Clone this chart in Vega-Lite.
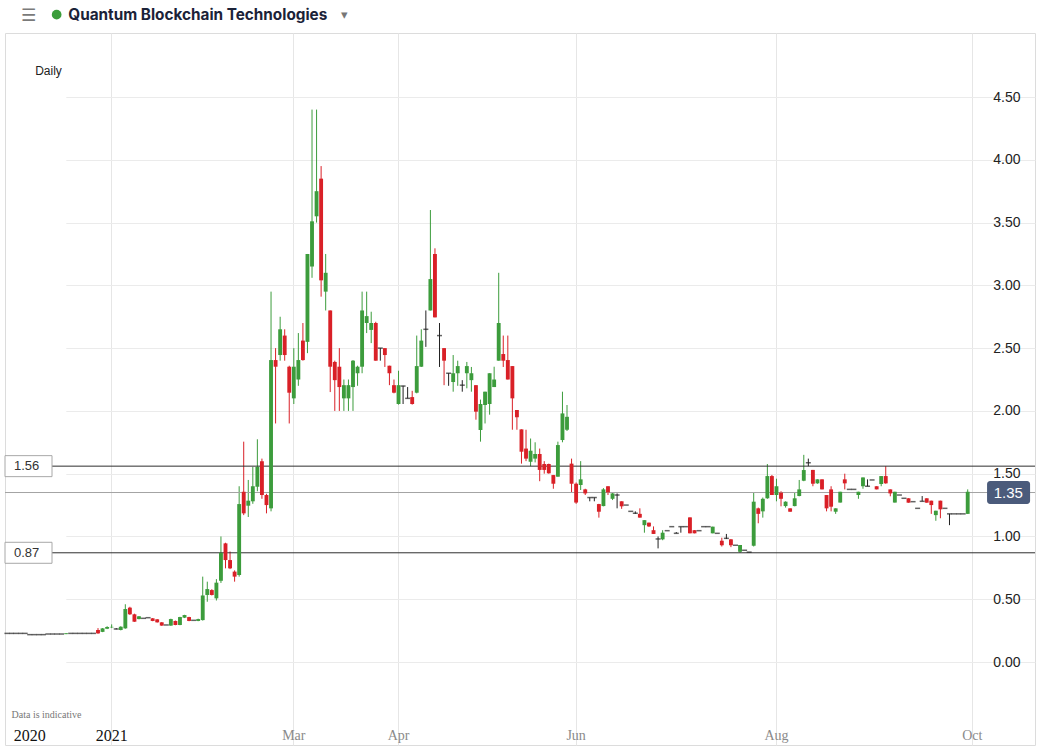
{
  "$schema": "https://vega.github.io/schema/vega-lite/v6.json",
  "autosize": {"type": "none"},
  "padding": {"left": 5, "top": 33, "right": 3, "bottom": 7},
  "width": 1030,
  "height": 712,
  "background": "#ffffff",
  "title": {"text": "☰", "anchor": "start", "frame": "group", "dx": 16, "offset": -26, "baseline": "middle", "fontSize": 17, "color": "#7a7a7a", "fontWeight": "normal", "font": "DejaVu Sans"},
  "config": {"view": {"stroke": "#dcdcdc"}, "font": "Liberation Sans"},
  "datasets": {
    "levels": [{"level": 1.56}, {"level": 0.87}],
    "last": [{"d": "2021-10-01", "p": 1.35, "name": "Quantum Blockchain Technologies"}],
    "candles": [
      {"d":"2020-11-27","o":0.228,"h":0.228,"l":0.228,"c":0.228},
      {"d":"2020-11-30","o":0.228,"h":0.228,"l":0.228,"c":0.228},
      {"d":"2020-12-01","o":0.228,"h":0.228,"l":0.228,"c":0.228},
      {"d":"2020-12-02","o":0.228,"h":0.228,"l":0.228,"c":0.228},
      {"d":"2020-12-03","o":0.228,"h":0.228,"l":0.228,"c":0.228},
      {"d":"2020-12-04","o":0.218,"h":0.218,"l":0.218,"c":0.218},
      {"d":"2020-12-07","o":0.218,"h":0.218,"l":0.218,"c":0.218},
      {"d":"2020-12-08","o":0.218,"h":0.218,"l":0.218,"c":0.218},
      {"d":"2020-12-09","o":0.218,"h":0.218,"l":0.218,"c":0.218},
      {"d":"2020-12-10","o":0.223,"h":0.223,"l":0.223,"c":0.223},
      {"d":"2020-12-11","o":0.223,"h":0.223,"l":0.223,"c":0.223},
      {"d":"2020-12-14","o":0.223,"h":0.223,"l":0.223,"c":0.223},
      {"d":"2020-12-15","o":0.223,"h":0.223,"l":0.223,"c":0.223},
      {"d":"2020-12-16","o":0.222,"h":0.230,"l":0.222,"c":0.229},
      {"d":"2020-12-17","o":0.228,"h":0.228,"l":0.228,"c":0.228},
      {"d":"2020-12-18","o":0.228,"h":0.228,"l":0.228,"c":0.228},
      {"d":"2020-12-21","o":0.228,"h":0.228,"l":0.228,"c":0.228},
      {"d":"2020-12-22","o":0.228,"h":0.228,"l":0.228,"c":0.228},
      {"d":"2020-12-23","o":0.228,"h":0.228,"l":0.228,"c":0.228},
      {"d":"2020-12-24","o":0.228,"h":0.228,"l":0.228,"c":0.228},
      {"d":"2020-12-29","o":0.255,"h":0.270,"l":0.225,"c":0.228},
      {"d":"2020-12-30","o":0.240,"h":0.270,"l":0.238,"c":0.268},
      {"d":"2020-12-31","o":0.265,"h":0.285,"l":0.262,"c":0.279},
      {"d":"2021-01-04","o":0.276,"h":0.300,"l":0.270,"c":0.280},
      {"d":"2021-01-05","o":0.263,"h":0.270,"l":0.260,"c":0.263},
      {"d":"2021-01-06","o":0.255,"h":0.285,"l":0.252,"c":0.281},
      {"d":"2021-01-07","o":0.268,"h":0.460,"l":0.265,"c":0.422},
      {"d":"2021-01-08","o":0.433,"h":0.440,"l":0.375,"c":0.380},
      {"d":"2021-01-11","o":0.380,"h":0.385,"l":0.320,"c":0.321},
      {"d":"2021-01-12","o":0.342,"h":0.366,"l":0.340,"c":0.364},
      {"d":"2021-01-13","o":0.348,"h":0.348,"l":0.348,"c":0.348},
      {"d":"2021-01-14","o":0.353,"h":0.353,"l":0.353,"c":0.353},
      {"d":"2021-01-15","o":0.348,"h":0.350,"l":0.325,"c":0.327},
      {"d":"2021-01-18","o":0.340,"h":0.342,"l":0.314,"c":0.316},
      {"d":"2021-01-19","o":0.316,"h":0.318,"l":0.288,"c":0.290},
      {"d":"2021-01-20","o":0.295,"h":0.295,"l":0.295,"c":0.295},
      {"d":"2021-01-21","o":0.290,"h":0.345,"l":0.288,"c":0.342},
      {"d":"2021-01-22","o":0.327,"h":0.330,"l":0.293,"c":0.295},
      {"d":"2021-01-25","o":0.295,"h":0.360,"l":0.293,"c":0.358},
      {"d":"2021-01-26","o":0.353,"h":0.376,"l":0.350,"c":0.374},
      {"d":"2021-01-27","o":0.358,"h":0.360,"l":0.325,"c":0.327},
      {"d":"2021-01-28","o":0.332,"h":0.332,"l":0.332,"c":0.332},
      {"d":"2021-01-29","o":0.327,"h":0.345,"l":0.325,"c":0.342},
      {"d":"2021-02-01","o":0.334,"h":0.680,"l":0.330,"c":0.530},
      {"d":"2021-02-02","o":0.534,"h":0.640,"l":0.480,"c":0.581},
      {"d":"2021-02-03","o":0.573,"h":0.580,"l":0.530,"c":0.534},
      {"d":"2021-02-04","o":0.507,"h":0.660,"l":0.490,"c":0.632},
      {"d":"2021-02-05","o":0.647,"h":1.000,"l":0.630,"c":0.870},
      {"d":"2021-02-08","o":0.945,"h":0.950,"l":0.746,"c":0.812},
      {"d":"2021-02-09","o":0.812,"h":0.880,"l":0.740,"c":0.746},
      {"d":"2021-02-10","o":0.720,"h":0.730,"l":0.640,"c":0.680},
      {"d":"2021-02-11","o":0.693,"h":1.400,"l":0.680,"c":1.258},
      {"d":"2021-02-12","o":1.356,"h":1.755,"l":1.170,"c":1.184},
      {"d":"2021-02-15","o":1.245,"h":1.450,"l":1.155,"c":1.285},
      {"d":"2021-02-16","o":1.280,"h":1.555,"l":1.260,"c":1.400},
      {"d":"2021-02-17","o":1.396,"h":1.774,"l":1.360,"c":1.555},
      {"d":"2021-02-18","o":1.600,"h":1.620,"l":1.300,"c":1.330},
      {"d":"2021-02-19","o":1.330,"h":1.340,"l":1.184,"c":1.250},
      {"d":"2021-02-22","o":1.224,"h":2.950,"l":1.200,"c":2.405},
      {"d":"2021-02-23","o":2.405,"h":2.500,"l":1.900,"c":2.352},
      {"d":"2021-02-24","o":2.445,"h":2.750,"l":2.400,"c":2.650},
      {"d":"2021-02-25","o":2.600,"h":2.650,"l":2.400,"c":2.445},
      {"d":"2021-02-26","o":2.352,"h":2.360,"l":1.900,"c":2.145},
      {"d":"2021-03-01","o":2.100,"h":2.500,"l":2.055,"c":2.352},
      {"d":"2021-03-02","o":2.250,"h":2.620,"l":2.200,"c":2.405},
      {"d":"2021-03-03","o":2.560,"h":2.700,"l":2.400,"c":2.405},
      {"d":"2021-03-04","o":2.550,"h":3.250,"l":2.460,"c":3.250},
      {"d":"2021-03-05","o":3.150,"h":4.400,"l":3.060,"c":3.510},
      {"d":"2021-03-08","o":3.550,"h":4.400,"l":3.500,"c":3.750},
      {"d":"2021-03-09","o":3.850,"h":3.950,"l":2.910,"c":3.040},
      {"d":"2021-03-10","o":2.950,"h":3.250,"l":2.800,"c":3.100},
      {"d":"2021-03-11","o":2.800,"h":2.800,"l":2.150,"c":2.352},
      {"d":"2021-03-12","o":2.390,"h":2.400,"l":2.000,"c":2.245},
      {"d":"2021-03-15","o":2.352,"h":2.500,"l":2.000,"c":2.190},
      {"d":"2021-03-16","o":2.100,"h":2.250,"l":2.000,"c":2.205},
      {"d":"2021-03-17","o":2.100,"h":2.250,"l":2.000,"c":2.205},
      {"d":"2021-03-18","o":2.190,"h":2.405,"l":2.000,"c":2.400},
      {"d":"2021-03-19","o":2.300,"h":2.360,"l":2.200,"c":2.352},
      {"d":"2021-03-22","o":2.352,"h":2.950,"l":2.300,"c":2.800},
      {"d":"2021-03-23","o":2.700,"h":2.950,"l":2.620,"c":2.755},
      {"d":"2021-03-24","o":2.645,"h":2.790,"l":2.540,"c":2.700},
      {"d":"2021-03-25","o":2.700,"h":2.710,"l":2.400,"c":2.400},
      {"d":"2021-03-26","o":2.500,"h":2.500,"l":2.400,"c":2.500},
      {"d":"2021-03-29","o":2.500,"h":2.500,"l":2.350,"c":2.445},
      {"d":"2021-03-30","o":2.360,"h":2.360,"l":2.205,"c":2.300},
      {"d":"2021-03-31","o":2.205,"h":2.250,"l":2.140,"c":2.145},
      {"d":"2021-04-01","o":2.055,"h":2.320,"l":2.050,"c":2.205},
      {"d":"2021-04-06","o":2.198,"h":2.200,"l":2.055,"c":2.198},
      {"d":"2021-04-07","o":2.100,"h":2.190,"l":2.100,"c":2.100},
      {"d":"2021-04-08","o":2.110,"h":2.160,"l":2.050,"c":2.055},
      {"d":"2021-04-09","o":2.145,"h":2.600,"l":2.140,"c":2.357},
      {"d":"2021-04-12","o":2.352,"h":2.650,"l":2.350,"c":2.560},
      {"d":"2021-04-13","o":2.650,"h":2.800,"l":2.510,"c":2.650},
      {"d":"2021-04-14","o":2.800,"h":3.600,"l":2.800,"c":3.050},
      {"d":"2021-04-15","o":3.250,"h":3.295,"l":2.745,"c":2.745},
      {"d":"2021-04-16","o":2.600,"h":2.700,"l":2.350,"c":2.600},
      {"d":"2021-04-19","o":2.500,"h":2.500,"l":2.205,"c":2.400},
      {"d":"2021-04-20","o":2.300,"h":2.300,"l":2.200,"c":2.300},
      {"d":"2021-04-21","o":2.230,"h":2.445,"l":2.153,"c":2.300},
      {"d":"2021-04-22","o":2.300,"h":2.400,"l":2.200,"c":2.357},
      {"d":"2021-04-23","o":2.205,"h":2.245,"l":2.153,"c":2.205},
      {"d":"2021-04-26","o":2.300,"h":2.390,"l":2.180,"c":2.357},
      {"d":"2021-04-27","o":2.245,"h":2.350,"l":2.153,"c":2.300},
      {"d":"2021-04-28","o":2.205,"h":2.205,"l":1.930,"c":1.994},
      {"d":"2021-04-29","o":1.848,"h":2.090,"l":1.755,"c":2.055},
      {"d":"2021-04-30","o":2.047,"h":2.153,"l":1.900,"c":2.153},
      {"d":"2021-05-04","o":2.055,"h":2.300,"l":1.970,"c":2.300},
      {"d":"2021-05-05","o":2.190,"h":2.352,"l":2.190,"c":2.250},
      {"d":"2021-05-06","o":2.400,"h":3.100,"l":2.400,"c":2.700},
      {"d":"2021-05-07","o":2.453,"h":2.600,"l":2.350,"c":2.400},
      {"d":"2021-05-10","o":2.405,"h":2.600,"l":2.250,"c":2.250},
      {"d":"2021-05-11","o":2.357,"h":2.357,"l":1.850,"c":2.100},
      {"d":"2021-05-12","o":2.007,"h":2.007,"l":1.850,"c":1.950},
      {"d":"2021-05-13","o":1.853,"h":1.853,"l":1.580,"c":1.675},
      {"d":"2021-05-14","o":1.700,"h":1.850,"l":1.600,"c":1.620},
      {"d":"2021-05-17","o":1.595,"h":1.780,"l":1.560,"c":1.683},
      {"d":"2021-05-18","o":1.620,"h":1.750,"l":1.590,"c":1.657},
      {"d":"2021-05-19","o":1.657,"h":1.700,"l":1.440,"c":1.530},
      {"d":"2021-05-20","o":1.577,"h":1.600,"l":1.500,"c":1.530},
      {"d":"2021-05-21","o":1.577,"h":1.580,"l":1.500,"c":1.503},
      {"d":"2021-05-24","o":1.489,"h":1.490,"l":1.380,"c":1.420},
      {"d":"2021-05-25","o":1.476,"h":1.755,"l":1.476,"c":1.728},
      {"d":"2021-05-26","o":1.768,"h":2.153,"l":1.750,"c":1.980},
      {"d":"2021-05-27","o":1.850,"h":2.047,"l":1.840,"c":1.953},
      {"d":"2021-05-28","o":1.580,"h":1.620,"l":1.350,"c":1.420},
      {"d":"2021-06-01","o":1.420,"h":1.430,"l":1.260,"c":1.270},
      {"d":"2021-06-02","o":1.410,"h":1.600,"l":1.370,"c":1.455},
      {"d":"2021-06-03","o":1.375,"h":1.380,"l":1.330,"c":1.343},
      {"d":"2021-06-04","o":1.310,"h":1.310,"l":1.280,"c":1.310},
      {"d":"2021-06-07","o":1.310,"h":1.310,"l":1.280,"c":1.310},
      {"d":"2021-06-08","o":1.258,"h":1.260,"l":1.150,"c":1.197},
      {"d":"2021-06-09","o":1.242,"h":1.385,"l":1.240,"c":1.375},
      {"d":"2021-06-10","o":1.400,"h":1.400,"l":1.330,"c":1.350},
      {"d":"2021-06-11","o":1.300,"h":1.350,"l":1.290,"c":1.343},
      {"d":"2021-06-14","o":1.330,"h":1.343,"l":1.224,"c":1.330},
      {"d":"2021-06-15","o":1.280,"h":1.280,"l":1.220,"c":1.240},
      {"d":"2021-06-16","o":1.250,"h":1.250,"l":1.250,"c":1.250},
      {"d":"2021-06-17","o":1.200,"h":1.200,"l":1.200,"c":1.200},
      {"d":"2021-06-18","o":1.185,"h":1.200,"l":1.180,"c":1.185},
      {"d":"2021-06-21","o":1.180,"h":1.224,"l":1.150,"c":1.150},
      {"d":"2021-06-22","o":1.090,"h":1.130,"l":1.030,"c":1.130},
      {"d":"2021-06-23","o":1.110,"h":1.110,"l":1.075,"c":1.080},
      {"d":"2021-06-24","o":1.050,"h":1.080,"l":1.020,"c":1.020},
      {"d":"2021-06-25","o":0.980,"h":1.000,"l":0.905,"c":0.980},
      {"d":"2021-06-28","o":0.977,"h":1.050,"l":0.970,"c":1.030},
      {"d":"2021-06-29","o":1.046,"h":1.046,"l":1.046,"c":1.046},
      {"d":"2021-06-30","o":1.078,"h":1.078,"l":1.078,"c":1.078},
      {"d":"2021-07-01","o":1.025,"h":1.035,"l":1.025,"c":1.025},
      {"d":"2021-07-02","o":1.078,"h":1.078,"l":1.030,"c":1.078},
      {"d":"2021-07-05","o":1.078,"h":1.078,"l":1.078,"c":1.078},
      {"d":"2021-07-06","o":1.152,"h":1.152,"l":1.025,"c":1.025},
      {"d":"2021-07-07","o":1.050,"h":1.050,"l":1.025,"c":1.025},
      {"d":"2021-07-08","o":1.046,"h":1.046,"l":1.046,"c":1.046},
      {"d":"2021-07-09","o":1.078,"h":1.078,"l":1.078,"c":1.078},
      {"d":"2021-07-12","o":1.078,"h":1.078,"l":1.078,"c":1.078},
      {"d":"2021-07-13","o":1.025,"h":1.078,"l":1.025,"c":1.078},
      {"d":"2021-07-14","o":1.025,"h":1.025,"l":1.025,"c":1.025},
      {"d":"2021-07-15","o":0.966,"h":0.990,"l":0.920,"c":0.930},
      {"d":"2021-07-16","o":0.985,"h":1.020,"l":0.980,"c":0.985},
      {"d":"2021-07-19","o":0.977,"h":0.980,"l":0.915,"c":0.930},
      {"d":"2021-07-20","o":0.930,"h":0.930,"l":0.930,"c":0.930},
      {"d":"2021-07-21","o":0.878,"h":0.932,"l":0.870,"c":0.932},
      {"d":"2021-07-22","o":0.890,"h":0.890,"l":0.890,"c":0.890},
      {"d":"2021-07-23","o":0.875,"h":0.875,"l":0.875,"c":0.875},
      {"d":"2021-07-26","o":0.926,"h":1.350,"l":0.920,"c":1.277},
      {"d":"2021-07-27","o":1.224,"h":1.230,"l":1.105,"c":1.180},
      {"d":"2021-07-28","o":1.200,"h":1.310,"l":1.150,"c":1.300},
      {"d":"2021-07-29","o":1.304,"h":1.577,"l":1.300,"c":1.481},
      {"d":"2021-07-30","o":1.481,"h":1.490,"l":1.330,"c":1.330},
      {"d":"2021-08-02","o":1.330,"h":1.460,"l":1.280,"c":1.400},
      {"d":"2021-08-03","o":1.350,"h":1.360,"l":1.240,"c":1.300},
      {"d":"2021-08-04","o":1.242,"h":1.280,"l":1.230,"c":1.277},
      {"d":"2021-08-05","o":1.224,"h":1.224,"l":1.197,"c":1.197},
      {"d":"2021-08-06","o":1.242,"h":1.350,"l":1.240,"c":1.304},
      {"d":"2021-08-09","o":1.322,"h":1.450,"l":1.320,"c":1.375},
      {"d":"2021-08-10","o":1.444,"h":1.650,"l":1.440,"c":1.529},
      {"d":"2021-08-11","o":1.587,"h":1.620,"l":1.560,"c":1.587},
      {"d":"2021-08-12","o":1.530,"h":1.530,"l":1.400,"c":1.420},
      {"d":"2021-08-13","o":1.423,"h":1.455,"l":1.420,"c":1.455},
      {"d":"2021-08-16","o":1.455,"h":1.455,"l":1.375,"c":1.375},
      {"d":"2021-08-17","o":1.330,"h":1.330,"l":1.200,"c":1.224},
      {"d":"2021-08-18","o":1.375,"h":1.400,"l":1.200,"c":1.237},
      {"d":"2021-08-19","o":1.197,"h":1.224,"l":1.180,"c":1.224},
      {"d":"2021-08-20","o":1.270,"h":1.356,"l":1.270,"c":1.356},
      {"d":"2021-08-23","o":1.455,"h":1.500,"l":1.375,"c":1.423},
      {"d":"2021-08-24","o":1.375,"h":1.375,"l":1.375,"c":1.375},
      {"d":"2021-08-25","o":1.375,"h":1.375,"l":1.375,"c":1.375},
      {"d":"2021-08-26","o":1.330,"h":1.356,"l":1.300,"c":1.356},
      {"d":"2021-08-27","o":1.400,"h":1.470,"l":1.380,"c":1.470},
      {"d":"2021-08-31","o":1.400,"h":1.455,"l":1.400,"c":1.400},
      {"d":"2021-09-01","o":1.450,"h":1.450,"l":1.450,"c":1.450},
      {"d":"2021-09-02","o":1.400,"h":1.400,"l":1.375,"c":1.375},
      {"d":"2021-09-03","o":1.418,"h":1.481,"l":1.400,"c":1.481},
      {"d":"2021-09-06","o":1.481,"h":1.560,"l":1.420,"c":1.423},
      {"d":"2021-09-07","o":1.375,"h":1.375,"l":1.320,"c":1.343},
      {"d":"2021-09-08","o":1.270,"h":1.356,"l":1.270,"c":1.356},
      {"d":"2021-09-09","o":1.330,"h":1.330,"l":1.330,"c":1.330},
      {"d":"2021-09-10","o":1.304,"h":1.304,"l":1.304,"c":1.304},
      {"d":"2021-09-13","o":1.304,"h":1.304,"l":1.269,"c":1.269},
      {"d":"2021-09-14","o":1.277,"h":1.277,"l":1.277,"c":1.277},
      {"d":"2021-09-15","o":1.224,"h":1.224,"l":1.224,"c":1.224},
      {"d":"2021-09-16","o":1.280,"h":1.322,"l":1.280,"c":1.280},
      {"d":"2021-09-17","o":1.304,"h":1.304,"l":1.269,"c":1.269},
      {"d":"2021-09-20","o":1.285,"h":1.285,"l":1.180,"c":1.250},
      {"d":"2021-09-21","o":1.170,"h":1.205,"l":1.125,"c":1.205},
      {"d":"2021-09-22","o":1.285,"h":1.285,"l":1.145,"c":1.216},
      {"d":"2021-09-23","o":1.224,"h":1.224,"l":1.224,"c":1.224},
      {"d":"2021-09-24","o":1.180,"h":1.180,"l":1.090,"c":1.180},
      {"d":"2021-09-27","o":1.180,"h":1.180,"l":1.180,"c":1.180},
      {"d":"2021-09-28","o":1.180,"h":1.180,"l":1.180,"c":1.180},
      {"d":"2021-09-29","o":1.180,"h":1.180,"l":1.180,"c":1.180},
      {"d":"2021-09-30","o":1.180,"h":1.375,"l":1.179,"c":1.356}
    ]
  },
  "layer": [
    {
      "data": {"name": "candles"},
      "mark": {"type": "rule", "strokeWidth": 1},
      "encoding": {
        "x": {
          "field": "d", "type": "ordinal",
          "scale": {"type": "band", "range": [0, 969.2], "paddingInner": 0.15, "paddingOuter": 0},
          "axis": {
            "values": ["2020-12-04", "2021-01-04", "2021-03-01", "2021-04-01", "2021-06-01", "2021-08-02", "2021-10-01"],
            "labelExpr": "datum.value == '2020-12-04' ? '2020' : datum.value == '2021-01-04' ? '2021' : datum.value == '2021-03-01' ? 'Mar' : datum.value == '2021-04-01' ? 'Apr' : datum.value == '2021-06-01' ? 'Jun' : datum.value == '2021-08-02' ? 'Aug' : 'Oct'",
            "orient": "bottom", "domain": false, "ticks": false, "grid": true, "gridColor": "#e6e6e6",
            "gridOpacity": {"condition": {"test": "datum.value == '2020-12-04'", "value": 0}, "value": 1},
            "bandPosition": 0.5,
            "labelPadding": -10, "labelBaseline": "middle", "labelAngle": 0,
            "labelFontSize": {"condition": {"test": "datum.value < '2021-02'", "value": 16}, "value": 14},
            "labelFont": "Liberation Sans Narrow",
            "labelColor": {"condition": {"test": "datum.value < '2021-02'", "value": "#111111"}, "value": "#8a8a8a"},
            "labelFontWeight": "normal",
            "labelOverlap": false, "labelFlush": false,
            "title": "Data is indicative", "titleX": 6, "titleY": -31, "titleAlign": "left", "titleBaseline": "middle",
            "titleFontSize": 10, "titleFontWeight": "normal", "titleColor": "#777777", "titleFont": "Liberation Sans Narrow"
          }
        },
        "y": {
          "field": "l", "type": "quantitative",
          "scale": {"domain": [-0.661, 5.01], "nice": false, "zero": false},
          "axis": {
            "orient": "right", "values": [0, 0.5, 1, 1.5, 2, 2.5, 3, 3.5, 4, 4.5], "format": ".2f",
            "domain": false, "ticks": false, "grid": true, "gridColor": "#ebebeb",
            "labelAlign": "right", "labelBaseline": "middle", "labelPadding": -15, "labelFontSize": 14,
            "labelColor": "#222222", "labelFont": "Liberation Sans", "labelOverlap": false, "labelFlush": false,
            "title": "Daily", "titleAngle": 0, "titleX": -987, "titleY": 37, "titleAlign": "center", "titleBaseline": "middle",
            "titleFontSize": 12, "titleFontWeight": "normal", "titleColor": "#222222", "titleFont": "Liberation Sans"
          }
        },
        "y2": {"field": "h"},
        "color": {"condition": [{"test": "datum.c > datum.o", "value": "#3c9c3c"}, {"test": "datum.c < datum.o", "value": "#d92027"}], "value": "#222222"}
      }
    },
    {
      "data": {"name": "levels"},
      "mark": {"type": "rule", "color": "#2e2e2e", "strokeWidth": 1},
      "encoding": {"y": {"field": "level", "type": "quantitative"}}
    },
    {
      "data": {"name": "last"},
      "mark": {"type": "rule", "color": "#a3a3a3", "strokeWidth": 1},
      "encoding": {"y": {"field": "p", "type": "quantitative"}}
    },
    {
      "data": {"name": "candles"},
      "mark": {"type": "bar"},
      "encoding": {
        "x": {"field": "d", "type": "ordinal"},
        "y": {"field": "o", "type": "quantitative"},
        "y2": {"field": "c"},
        "color": {"condition": [{"test": "datum.c > datum.o", "value": "#3c9c3c"}, {"test": "datum.c < datum.o", "value": "#d92027"}], "value": "#222222"}
      }
    },
    {
      "data": {"name": "candles"},
      "transform": [{"filter": "datum.o == datum.c"}],
      "mark": {"type": "tick", "thickness": 1.5, "size": 5, "color": "#222222", "orient": "horizontal"},
      "encoding": {
        "x": {"field": "d", "type": "ordinal"},
        "y": {"field": "c", "type": "quantitative"}
      }
    },
    {
      "data": {"name": "levels"},
      "mark": {"type": "point", "shape": "M-0.077,-0.42H1.803V0.42H-0.077Z", "size": 2500, "filled": true, "fill": "#ffffff", "stroke": "#a8a8a8", "strokeWidth": 1, "opacity": 1},
      "encoding": {
        "x": {"datum": "2020-11-27", "type": "ordinal"},
        "y": {"field": "level", "type": "quantitative"}
      }
    },
    {
      "data": {"name": "levels"},
      "mark": {"type": "text", "align": "left", "baseline": "middle", "dx": 7, "fontSize": 13, "color": "#333333", "font": "Liberation Sans"},
      "encoding": {
        "x": {"datum": "2020-11-27", "type": "ordinal"},
        "y": {"field": "level", "type": "quantitative"},
        "text": {"field": "level", "type": "quantitative", "format": ".2f"}
      }
    },
    {
      "data": {"name": "last"},
      "mark": {"type": "point", "shape": "M0.593,-0.383H1.827A0.1,0.1,0,0,1,1.927,-0.283V0.283A0.1,0.1,0,0,1,1.827,0.383H0.593A0.1,0.1,0,0,1,0.493,0.283V-0.283A0.1,0.1,0,0,1,0.593,-0.383Z", "size": 3600, "filled": true, "fill": "#4b5b7b", "strokeWidth": 0, "opacity": 1},
      "encoding": {
        "x": {"field": "d", "type": "ordinal"},
        "y": {"field": "p", "type": "quantitative"}
      }
    },
    {
      "data": {"name": "last"},
      "mark": {"type": "text", "align": "center", "baseline": "middle", "dx": 36, "fontSize": 15, "color": "#ffffff", "font": "Liberation Sans"},
      "encoding": {
        "x": {"field": "d", "type": "ordinal"},
        "y": {"field": "p", "type": "quantitative"},
        "text": {"field": "p", "type": "quantitative", "format": ".2f"}
      }
    },
    {
      "data": {"name": "last"},
      "mark": {"type": "point", "filled": true, "opacity": 0, "size": 10},
      "encoding": {
        "x": {"field": "d", "type": "ordinal"},
        "y": {"field": "p", "type": "quantitative"},
        "color": {
          "field": "name", "type": "nominal",
          "scale": {"range": ["#3a9d3a"]},
          "legend": {
            "orient": "none", "legendX": 44, "legendY": -26, "padding": 0,
            "title": "▾", "titleOrient": "right", "titleColor": "#777777", "titleFontSize": 13, "titleFontWeight": "normal", "titlePadding": 14, "titleFont": "DejaVu Sans",
            "symbolType": "circle", "symbolSize": 95, "symbolOpacity": 1, "symbolStrokeWidth": 0, "symbolFillColor": "#3a9d3a",
            "labelFontSize": 15.3, "labelFontWeight": "bold", "labelColor": "#1b2238", "labelFont": "Inter", "labelOffset": 4, "labelLimit": 400
          }
        }
      }
    }
  ]
}
